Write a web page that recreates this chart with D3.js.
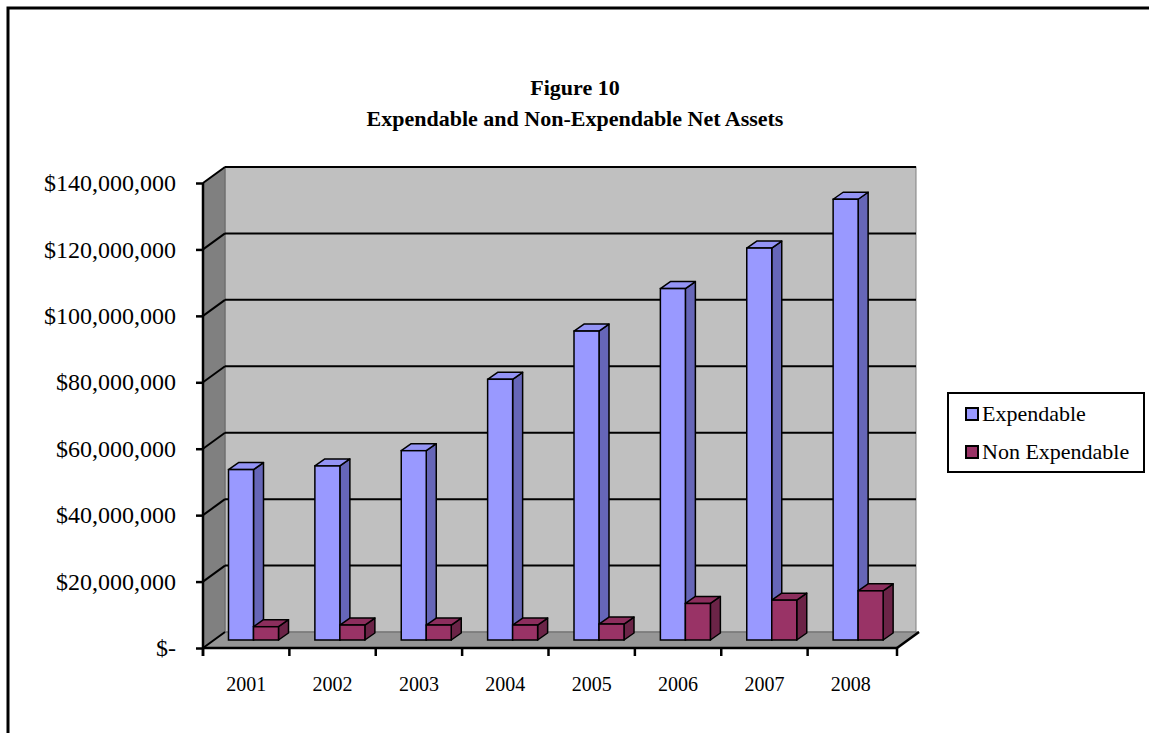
<!DOCTYPE html>
<html>
<head>
<meta charset="utf-8">
<script src="https://cdn.jsdelivr.net/npm/d3@7"></script>
<style>
  html, body { margin: 0; padding: 0; background: #fff; }
  svg { display: block; }
  text { font-family: "Liberation Serif", "Times New Roman", serif; fill: #000; }
</style>
</head>
<body>
<svg id="chart" width="1149" height="733"></svg>
<script>
// Net asset data, fiscal years 2001-2008
const years = ["2001", "2002", "2003", "2004", "2005", "2006", "2007", "2008"];
const seriesNames = ["Expendable", "Non Expendable"];
const expendable = [51300000, 52400000, 57000000, 78500000, 93000000, 105800000, 118000000, 132700000];
const nonExpendable = [4000000, 4500000, 4500000, 4500000, 4800000, 11000000, 12000000, 14800000];
const yTicks = [0, 20000000, 40000000, 60000000, 80000000, 100000000, 120000000, 140000000];
const titleLines = ["Figure 10", "Expendable and Non-Expendable Net Assets"];

(function () {
const svg = d3.select("#chart");

// outer frame (right/bottom edges fall outside the page)
svg.append("rect").attr("x", 8).attr("y", 8).attr("width", 1160).attr("height", 760)
  .attr("fill", "none").attr("stroke", "#000").attr("stroke-width", 3);

// plot geometry
const pL = 203, pR = 894, pB = 648, pT = 183;
const depthX = 22, depthY = -16;          // wall depth offset
const y = d3.scaleLinear().domain([0, 140000000]).range([pB, pT]);
const x = d3.scaleBand().domain(years).range([pL, pR]);
const x1 = d3.scaleBand().domain(seriesNames).range([25.5, 75.5]);
const barDX = 10, barDY = -7;             // bar depth
const midY = depthY / 2;

const fmt = v => v === 0 ? "$-" : "$" + d3.format(",")(v);

// back wall
svg.append("rect")
  .attr("x", pL + depthX).attr("y", pT + depthY)
  .attr("width", pR - pL).attr("height", pB - pT)
  .attr("fill", "#c0c0c0").attr("stroke", "#808080").attr("stroke-width", 1);

// side wall
svg.append("polygon")
  .attr("points", [[pL, pT], [pL + depthX, pT + depthY], [pL + depthX, pB + depthY], [pL, pB]].join(" "))
  .attr("fill", "#808080").attr("stroke", "#666").attr("stroke-width", 1);

// floor
svg.append("polygon")
  .attr("points", [[pL, pB], [pR + 3, pB], [pR + 3 + depthX, pB + depthY], [pL + depthX, pB + depthY]].join(" "))
  .attr("fill", "#969696").attr("stroke", "#666").attr("stroke-width", 1);

// gridlines on walls
const grid = svg.append("g");
yTicks.forEach(t => {
  const yy = y(t);
  grid.append("line")
    .attr("x1", pL).attr("y1", yy).attr("x2", pL + depthX).attr("y2", yy + depthY)
    .attr("stroke", "#000").attr("stroke-width", 2);
  if (t > 0) {
    grid.append("line")
      .attr("x1", pL + depthX).attr("y1", yy + depthY).attr("x2", pR + depthX).attr("y2", yy + depthY)
      .attr("stroke", "#000").attr("stroke-width", 2);
  }
});

// bars
const palette = {
  "Expendable": { front: "#9999ff", top: "#9494f5", side: "#6666b8" },
  "Non Expendable": { front: "#993366", top: "#8c2e5d", side: "#6b2447" }
};
const data = [];
years.forEach((yr, i) => {
  data.push({ year: yr, series: "Expendable", value: expendable[i] });
  data.push({ year: yr, series: "Non Expendable", value: nonExpendable[i] });
});
const bars = svg.append("g").selectAll("g").data(data).join("g");
bars.each(function (d) {
  const g = d3.select(this);
  const c = palette[d.series];
  const x0 = x(d.year) + x1(d.series);
  const w = x1.bandwidth();
  const y0 = y(0) + midY;
  const yt = y(d.value) + midY;
  g.append("polygon")
    .attr("points", [[x0 + w, yt], [x0 + w + barDX, yt + barDY], [x0 + w + barDX, y0 + barDY], [x0 + w, y0]].join(" "))
    .attr("fill", c.side).attr("stroke", "#000").attr("stroke-width", 1.5).attr("stroke-linejoin", "round");
  g.append("polygon")
    .attr("points", [[x0, yt], [x0 + barDX, yt + barDY], [x0 + w + barDX, yt + barDY], [x0 + w, yt]].join(" "))
    .attr("fill", c.top).attr("stroke", "#000").attr("stroke-width", 1.5).attr("stroke-linejoin", "round");
  g.append("rect")
    .attr("x", x0).attr("y", yt).attr("width", w).attr("height", y0 - yt)
    .attr("fill", c.front).attr("stroke", "#000").attr("stroke-width", 1.5);
});

// value axis
const yAxis = d3.axisLeft(y).tickValues(yTicks).tickFormat(fmt).tickSize(7).tickPadding(20);
const ya = svg.append("g").attr("transform", `translate(${pL},0)`).call(yAxis);
ya.select(".domain").attr("stroke", "#000").attr("stroke-width", 2.5).attr("d", `M0,${pT}V${pB + 8}`);
ya.selectAll(".tick line").attr("stroke", "#000").attr("stroke-width", 2.5);
ya.selectAll(".tick text").attr("font-size", 24).attr("font-family", "Liberation Serif, serif").attr("fill", "#000");

// category axis
const xa = svg.append("g").attr("transform", `translate(0,${pB})`);
xa.append("line").attr("x1", pL).attr("x2", pR + 3).attr("y1", 0).attr("y2", 0)
  .attr("stroke", "#000").attr("stroke-width", 2.5);
xa.append("line").attr("x1", pR + 3).attr("y1", 0).attr("x2", pR + 3 + depthX).attr("y2", depthY)
  .attr("stroke", "#000").attr("stroke-width", 2.5);
const edges = years.map(d => x(d)).concat([pR + 3]);
xa.selectAll("line.tk").data(edges).join("line").attr("class", "tk")
  .attr("x1", d => d).attr("x2", d => d).attr("y1", 0).attr("y2", 8)
  .attr("stroke", "#000").attr("stroke-width", 2.5);
xa.selectAll("text").data(years).join("text")
  .attr("x", d => x(d) + x.bandwidth() / 2).attr("y", 43)
  .attr("text-anchor", "middle").attr("font-size", 20).text(d => d);

// title
const title = svg.append("text").attr("text-anchor", "middle").attr("font-weight", "bold").attr("font-size", 22);
titleLines.forEach((t, i) => {
  title.append("tspan").attr("x", 575).attr("y", 95 + i * 31).text(t);
});

// legend
const lg = svg.append("g");
lg.append("rect").attr("x", 948).attr("y", 393).attr("width", 196).attr("height", 79)
  .attr("fill", "#fff").attr("stroke", "#000").attr("stroke-width", 2);
seriesNames.forEach((s, i) => {
  const ly = 408 + i * 38;
  lg.append("rect").attr("x", 966).attr("y", ly).attr("width", 12).attr("height", 12)
    .attr("fill", palette[s].front).attr("stroke", "#000").attr("stroke-width", 2);
  lg.append("text").attr("x", 982).attr("y", ly + 13).attr("font-size", 22).text(s);
});
})();
</script>
</body>
</html>
